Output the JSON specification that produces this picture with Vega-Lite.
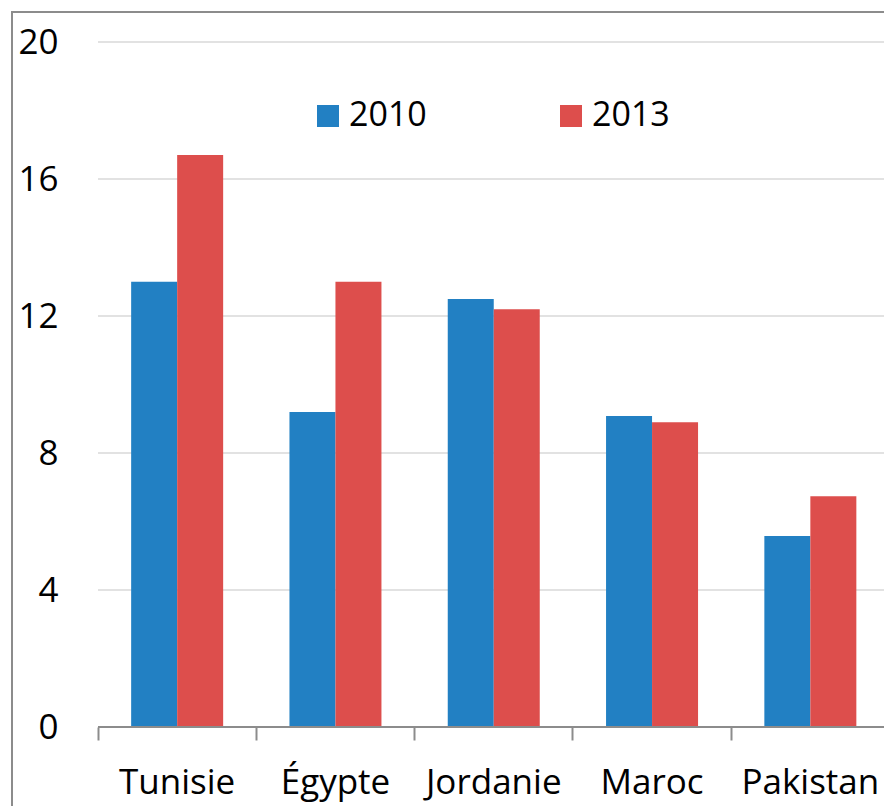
{
  "$schema": "https://vega.github.io/schema/vega-lite/v6.json",
  "width": 963.5,
  "height": 818,
  "padding": {"left": 12, "top": 12, "right": 0, "bottom": 0},
  "background": "white",
  "config": {
    "view": {"stroke": "#8c8c8c", "strokeWidth": 2},
    "font": "Open Sans"
  },
  "datasets": {
    "bars": [
      {"country": "Tunisie", "year": "2010", "value": 13.0},
      {"country": "Tunisie", "year": "2013", "value": 16.7},
      {"country": "Égypte", "year": "2010", "value": 9.2},
      {"country": "Égypte", "year": "2013", "value": 13.0},
      {"country": "Jordanie", "year": "2010", "value": 12.5},
      {"country": "Jordanie", "year": "2013", "value": 12.2},
      {"country": "Maroc", "year": "2010", "value": 9.08},
      {"country": "Maroc", "year": "2013", "value": 8.9},
      {"country": "Pakistan", "year": "2010", "value": 5.58},
      {"country": "Pakistan", "year": "2013", "value": 6.74}
    ],
    "grid": [{"value": 4}, {"value": 8}, {"value": 12}, {"value": 16}, {"value": 20}],
    "base": [{"value": 0}]
  },
  "layer": [
    {
      "data": {"name": "grid"},
      "mark": {"type": "rule", "color": "#d9d9d9", "strokeWidth": 1.5},
      "encoding": {
        "x": {"datum": "Tunisie", "type": "nominal", "bandPosition": 0},
        "x2": {"datum": "Pakistan", "bandPosition": 1},
        "y": {"field": "value", "type": "quantitative"}
      }
    },
    {
      "data": {"name": "bars"},
      "mark": {"type": "bar"},
      "encoding": {
        "x": {
          "field": "country",
          "type": "nominal",
          "scale": {
            "domain": ["Tunisie", "Égypte", "Jordanie", "Maroc", "Pakistan"],
            "paddingInner": 0,
            "paddingOuter": 0.5433
          },
          "axis": {
            "title": null,
            "bandPosition": 0,
            "labelAngle": 0,
            "labelAlign": "center",
            "labelBaseline": "top",
            "domain": false,
            "grid": false,
            "ticks": true,
            "tickSize": 13,
            "tickColor": "#8c8c8c",
            "tickWidth": 2,
            "labelFontSize": 35,
            "labelColor": "black",
            "labelPadding": 25,
            "offset": -103
          }
        },
        "xOffset": {
          "field": "year",
          "type": "nominal",
          "scale": {"paddingInner": 0, "paddingOuter": 0.7207}
        },
        "y": {
          "field": "value",
          "type": "quantitative",
          "scale": {"domain": [-3.007, 20.876], "nice": false, "zero": false},
          "axis": {
            "title": null,
            "values": [0, 4, 8, 12, 16, 20],
            "grid": false,
            "domain": false,
            "ticks": false,
            "tickSize": 0,
            "labelPadding": -46,
            "labelAlign": "right",
            "labelFontSize": 35,
            "labelColor": "black"
          }
        },
        "color": {
          "field": "year",
          "type": "nominal",
          "scale": {"domain": ["2010", "2013"], "range": ["#2280c3", "#dd4e4c"]},
          "legend": {
            "orient": "none",
            "legendX": 299,
            "legendY": 87,
            "direction": "horizontal",
            "title": null,
            "symbolType": "square",
            "symbolSize": 484,
            "symbolStrokeWidth": 0,
            "symbolOpacity": 1,
            "labelFontSize": 34,
            "labelColor": "black",
            "columnPadding": 127,
            "labelOffset": 4,
            "padding": 0
          }
        }
      }
    },
    {
      "data": {"name": "base"},
      "mark": {"type": "rule", "color": "#8c8c8c", "strokeWidth": 2},
      "encoding": {
        "x": {"datum": "Tunisie", "type": "nominal", "bandPosition": 0},
        "x2": {"datum": "Pakistan", "bandPosition": 1},
        "y": {"field": "value", "type": "quantitative"}
      }
    }
  ]
}
